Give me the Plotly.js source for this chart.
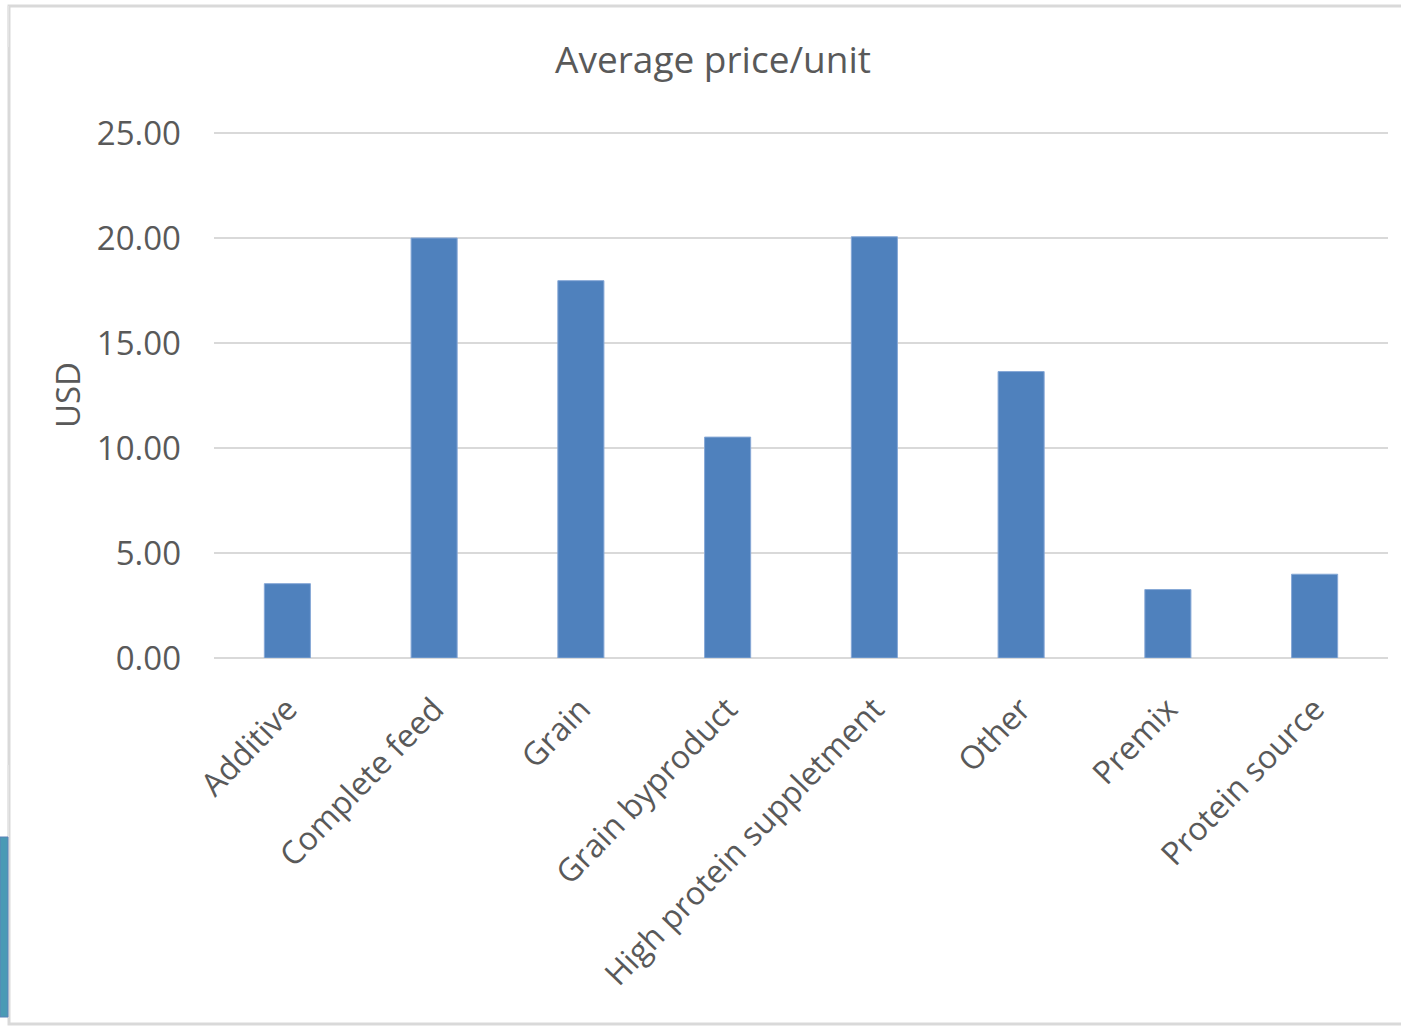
<!DOCTYPE html>
<html>
<head>
<meta charset="utf-8">
<script src="https://cdn.plot.ly/plotly-3.0.1.min.js"></script>
<style>
  html, body { margin: 0; padding: 0; background: #ffffff; }
  #chart { width: 1401px; height: 1027px; }
</style>
</head>
<body>
<div id="chart"></div>
<script>
// Average price per unit by feed category (USD)
const categories = [
  "Additive",
  "Complete feed",
  "Grain",
  "Grain byproduct",
  "High protein suppletment",
  "Other",
  "Premix",
  "Protein source"
];
const avgPrice = [3.54, 20.00, 17.97, 10.52, 20.06, 13.64, 3.26, 3.99];
const yTickValues = [0, 5, 10, 15, 20, 25];
const yTickLabels = ["0.00", "5.00", "10.00", "15.00", "20.00", "25.00"];

const W = 1401, H = 1027;
const M = { l: 214, r: 13, t: 132, b: 369 };
const plotW = W - M.l - M.r, plotH = H - M.t - M.b;
// convert page pixels to paper coordinates for the frame decorations
const px = x => (x - M.l) / plotW;
const py = y => (H - M.b - y) / plotH;

const textColor = "#595959";
const gridColor = "#d9d9d9";
const fontFamily = "'Open Sans', 'Noto Sans', sans-serif";

const trace = {
  type: "bar",
  x: categories,
  y: avgPrice,
  marker: { color: "#4f81bd", line: { color: "#86a8d6", width: 1 } },
  hoverinfo: "x+y"
};

const frameShapes = [
  // outer chart frame (top, left, bottom)
  { type: "rect", xref: "paper", yref: "paper", x0: px(9), x1: px(1405), y0: py(1024), y1: py(6),
    line: { color: "#d9d9d9", width: 3 }, fillcolor: "rgba(0,0,0,0)", layer: "below" },
  // thin strips at the left edge
  { type: "rect", xref: "paper", yref: "paper", x0: px(7.5), x1: px(9), y0: py(47), y1: py(6),
    line: { width: 0 }, fillcolor: "#e4e4e4", layer: "below" },
  { type: "rect", xref: "paper", yref: "paper", x0: px(7.5), x1: px(9), y0: py(1017), y1: py(765),
    line: { width: 0 }, fillcolor: "#e4e4e4", layer: "below" },
  // teal block at lower left
  { type: "rect", xref: "paper", yref: "paper", x0: px(0), x1: px(8), y0: py(1017), y1: py(837),
    line: { color: "#5a82b8", width: 1 }, fillcolor: "#4a9ab5", layer: "below" }
];

const layout = {
  width: W,
  height: H,
  margin: M,
  paper_bgcolor: "#ffffff",
  plot_bgcolor: "#ffffff",
  font: { family: fontFamily, color: textColor, size: 33 },
  showlegend: false,
  bargap: 0.686,
  title: {
    text: "Average price/unit",
    font: { family: fontFamily, size: 37, color: textColor },
    xref: "container", x: 713 / W, xanchor: "center",
    yref: "container", y: 1 - 60 / H, yanchor: "middle"
  },
  xaxis: {
    type: "category",
    tickangle: -46,
    tickfont: { family: fontFamily, size: 32, color: textColor },
    showgrid: false,
    showline: false,
    zeroline: false,
    ticks: "",
    ticklabelstandoff: 25,
    automargin: false,
    fixedrange: true
  },
  yaxis: {
    range: [0, 25.05],
    tickvals: yTickValues,
    ticktext: yTickLabels,
    tickfont: { family: fontFamily, size: 33, color: textColor },
    showgrid: true,
    gridcolor: gridColor,
    gridwidth: 2,
    zeroline: true,
    zerolinecolor: gridColor,
    zerolinewidth: 2,
    showline: false,
    ticks: "",
    ticklabelstandoff: 32,
    automargin: false,
    fixedrange: true,
    title: {
      text: "USD",
      font: { family: fontFamily, size: 33, color: textColor },
      standoff: 6
    }
  },
  shapes: frameShapes
};

Plotly.newPlot("chart", [trace], layout, { displayModeBar: false, staticPlot: true });
</script>
</body>
</html>
